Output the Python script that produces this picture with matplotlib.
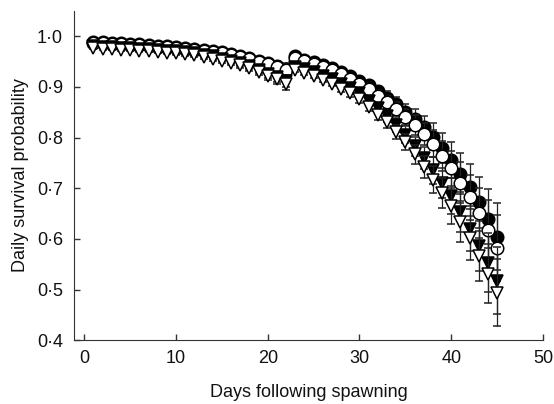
import numpy as np
import matplotlib.pyplot as plt
from matplotlib.ticker import FuncFormatter

plt.rcParams['font.family'] = ['Liberation Sans', 'DejaVu Sans']

days = np.arange(1, 46)

# 第一段 1-22 天, 第二段 23-45 天
open_circle = [0.987, 0.986, 0.985, 0.984, 0.983, 0.982, 0.981, 0.979, 0.978, 0.976,
               0.975, 0.973, 0.971, 0.969, 0.966, 0.963, 0.959, 0.955, 0.950, 0.945,
               0.940, 0.934,
               0.958, 0.952, 0.946, 0.940, 0.934, 0.926, 0.916, 0.906, 0.896, 0.883,
               0.870, 0.856, 0.840, 0.825, 0.807, 0.788, 0.763, 0.739, 0.711, 0.682,
               0.651, 0.618, 0.582]
filled_circle = [0.989, 0.988, 0.987, 0.986, 0.985, 0.984, 0.983, 0.981, 0.980, 0.978,
                 0.977, 0.975, 0.973, 0.971, 0.968, 0.965, 0.961, 0.957, 0.952, 0.947,
                 0.942, 0.936,
                 0.960, 0.954, 0.949, 0.943, 0.938, 0.930, 0.921, 0.912, 0.903, 0.891,
                 0.879, 0.866, 0.851, 0.837, 0.820, 0.802, 0.779, 0.756, 0.729, 0.703,
                 0.672, 0.640, 0.604]
open_tri = [0.976, 0.975, 0.974, 0.973, 0.972, 0.971, 0.970, 0.969, 0.967, 0.966,
            0.964, 0.962, 0.959, 0.956, 0.952, 0.948, 0.943, 0.937, 0.930, 0.922,
            0.915, 0.906,
            0.933, 0.927, 0.922, 0.914, 0.906, 0.895, 0.887, 0.876, 0.861, 0.845,
            0.830, 0.811, 0.791, 0.767, 0.742, 0.717, 0.691, 0.665, 0.634, 0.602,
            0.566, 0.531, 0.494]
filled_tri = [0.980, 0.979, 0.978, 0.977, 0.976, 0.975, 0.974, 0.973, 0.971, 0.970,
              0.968, 0.966, 0.963, 0.960, 0.956, 0.952, 0.947, 0.941, 0.934, 0.926,
              0.919, 0.911,
              0.940, 0.935, 0.930, 0.922, 0.915, 0.905, 0.897, 0.887, 0.873, 0.858,
              0.843, 0.825, 0.806, 0.783, 0.759, 0.735, 0.710, 0.685, 0.653, 0.620,
              0.586, 0.553, 0.517]
err = [0.002, 0.002, 0.002, 0.002, 0.002, 0.002, 0.002, 0.003, 0.003, 0.003,
       0.003, 0.003, 0.004, 0.004, 0.004, 0.005, 0.005, 0.006, 0.007, 0.008,
       0.009, 0.012,
       0.004, 0.004, 0.004, 0.005, 0.005, 0.006, 0.007, 0.008, 0.009, 0.010,
       0.012, 0.014, 0.016, 0.019, 0.022, 0.026, 0.030, 0.035, 0.040, 0.044,
       0.050, 0.058, 0.066]

fig = plt.figure(figsize=(5.54, 4.04), dpi=100)
ax = fig.add_axes([0.134, 0.158, 0.846, 0.815])

ms = 9
styles = [(filled_circle, 'o', 'black'),
          (open_circle, 'o', 'white'),
          (filled_tri, 'v', 'black'),
          (open_tri, 'v', 'white')]
for i, (vals, mk, fc) in enumerate(styles):
    ax.errorbar(days, vals, yerr=err, fmt=mk, ms=ms, mfc=fc, mec='black', mew=1.1,
                ecolor='#222222', elinewidth=0.9, capsize=2.7, capthick=0.9, zorder=2 + i)

ax.set_xlim(-1.1, 50)
ax.set_ylim(0.4, 1.05)
ax.set_xticks([0, 10, 20, 30, 40, 50])
ax.set_yticks([0.4, 0.5, 0.6, 0.7, 0.8, 0.9, 1.0])
ax.yaxis.set_major_formatter(FuncFormatter(lambda v, p: ('%.1f' % v).replace('.', '\u00b7')))
ax.spines['top'].set_visible(False)
ax.spines['right'].set_visible(False)
for s in ['left', 'bottom']:
    ax.spines[s].set_color('#333333')
ax.tick_params(direction='in', length=4, width=1, colors='#333333', labelcolor='#111111',
               labelsize=13)
ax.tick_params(axis='y', pad=8)
ax.tick_params(axis='x', pad=7)
ax.set_xlabel('Days following spawning', fontsize=13, labelpad=12, color='#111111')
ax.set_ylabel('Daily survival probability', fontsize=13, labelpad=6, color='#111111')

plt.savefig('out.png', dpi=100)
